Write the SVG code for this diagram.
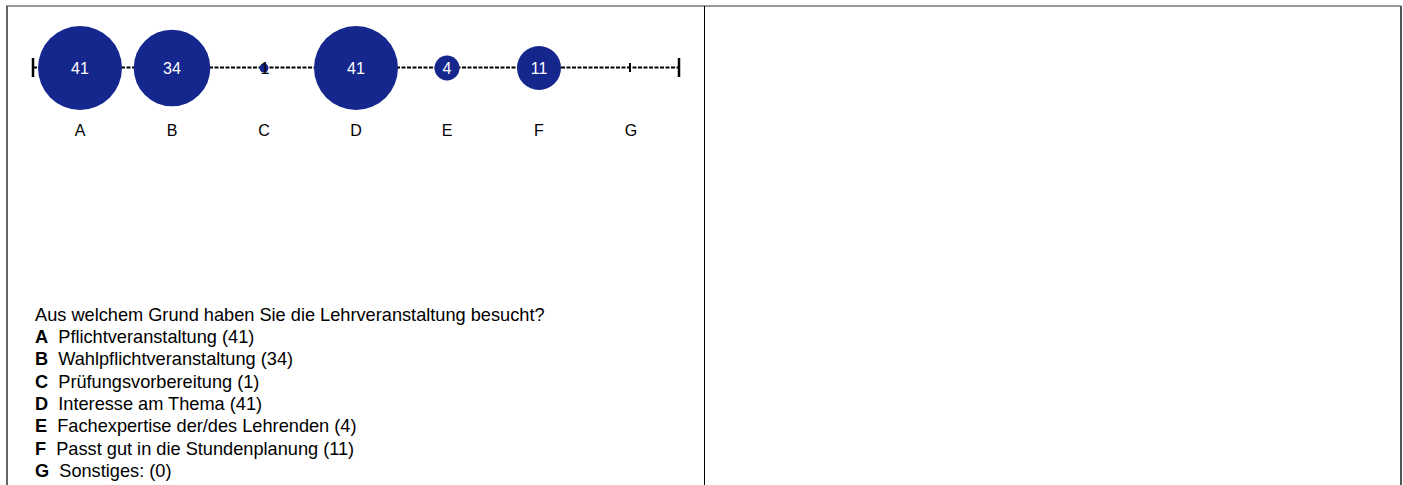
<svg xmlns="http://www.w3.org/2000/svg" width="1403" height="485" viewBox="0 0 1403 485">
<style>
.lbl{font-family:"Liberation Sans",Arial,sans-serif;font-size:16px;fill:#000;text-anchor:middle}
.val{font-family:"Liberation Sans",Arial,sans-serif;font-size:16px;fill:#fff;text-anchor:middle}
.txt{font-family:"Liberation Sans",Arial,sans-serif;font-size:18.2px;fill:#000;white-space:pre}
.b{font-weight:bold}
.bub{fill:#15268c}
</style>
<rect x="0" y="0" width="1403" height="485" fill="#fff"/>
<g id="frame">
<line x1="6" y1="6" x2="1401" y2="6" stroke="#333" stroke-width="1"/>
<line x1="7" y1="6" x2="7" y2="485" stroke="#666" stroke-width="2"/>
<line x1="1401" y1="6" x2="1401" y2="485" stroke="#555" stroke-width="2"/>
<line x1="704.5" y1="6" x2="704.5" y2="485" stroke="#000" stroke-width="1"/>
</g>
<g id="connectors">
<line x1="33" y1="67.5" x2="679" y2="67.5" stroke="#000" stroke-width="2" stroke-dasharray="4,1.5"/>
<line x1="33" y1="58" x2="33" y2="77" stroke="#000" stroke-width="2.5"/>
<line x1="679" y1="58" x2="679" y2="77" stroke="#000" stroke-width="2.5"/>
<line x1="630" y1="63" x2="630" y2="72" stroke="#000" stroke-width="2"/>
</g>
<g id="node-A"><circle class="bub" cx="80" cy="68" r="42"/><text class="val" x="80" y="73.5">41</text><text class="lbl" x="80" y="136">A</text></g>
<g id="node-B"><circle class="bub" cx="172" cy="68" r="38.3"/><text class="val" x="172" y="73.5">34</text><text class="lbl" x="172" y="136">B</text></g>
<g id="node-C"><circle class="bub" cx="264" cy="68" r="4.5"/><text class="val" x="265" y="73.5" style="fill:#000">1</text><text class="lbl" x="264" y="136">C</text></g>
<g id="node-D"><circle class="bub" cx="356" cy="68" r="42"/><text class="val" x="356" y="73.5">41</text><text class="lbl" x="356" y="136">D</text></g>
<g id="node-E"><circle class="bub" cx="447" cy="68" r="12.5"/><text class="val" x="447" y="73.5">4</text><text class="lbl" x="447" y="136">E</text></g>
<g id="node-F"><circle class="bub" cx="539" cy="68" r="22"/><text class="val" x="539" y="73.5">11</text><text class="lbl" x="539" y="136">F</text></g>
<g id="node-G"><text class="lbl" x="631" y="136">G</text></g>
<g id="legend">
<text class="txt" x="35" y="320.5">Aus welchem Grund haben Sie die Lehrveranstaltung besucht?</text>
<text class="txt" x="35" y="343"><tspan class="b">A</tspan>  Pflichtveranstaltung (41)</text>
<text class="txt" x="35" y="365.2"><tspan class="b">B</tspan>  Wahlpflichtveranstaltung (34)</text>
<text class="txt" x="35" y="387.6"><tspan class="b">C</tspan>  Prüfungsvorbereitung (1)</text>
<text class="txt" x="35" y="410"><tspan class="b">D</tspan>  Interesse am Thema (41)</text>
<text class="txt" x="35" y="432.3"><tspan class="b">E</tspan>  Fachexpertise der/des Lehrenden (4)</text>
<text class="txt" x="35" y="454.7"><tspan class="b">F</tspan>  Passt gut in die Stundenplanung (11)</text>
<text class="txt" x="35" y="477"><tspan class="b">G</tspan>  Sonstiges: (0)</text>
</g>
</svg>
